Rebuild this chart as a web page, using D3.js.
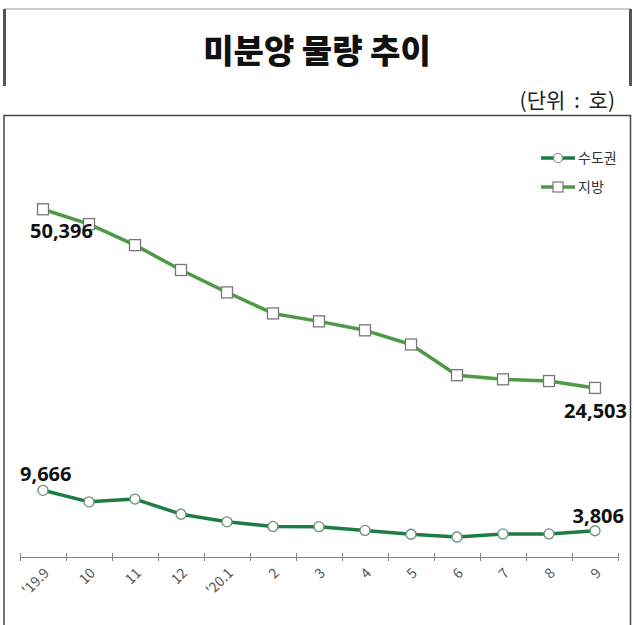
<!DOCTYPE html>
<html>
<head>
<meta charset="utf-8">
<script src="https://cdn.jsdelivr.net/npm/d3@7"></script>
<style>
  body { margin: 0; background: #fff; }
  svg  { display: block; }
</style>
</head>
<body>
<svg id="chart" width="634" height="625"></svg>
<script>
// MARK: Data.

const months   = ["'19.9", '10', '11', '12', "'20.1", '2', '3', '4', '5', '6', '7', '8', '9']
const capital  = [9666, 7990, 8400, 6202, 5100, 4427, 4400, 3850, 3300, 2900, 3350, 3350, 3806]
const regional = [50396, 48250, 45200, 41595, 38350, 35300, 34150, 32850, 30800, 26350, 25750, 25500, 24503]
const seriesNames = ['수도권', '지방']

// MARK: Layout.

const svg = d3.select('#chart')
const FONT = "'Noto Sans CJK KR', 'Noto Sans', sans-serif"

// Title box: a light top edge, two dark side edges.
svg.append('line').attr('x1', 4).attr('x2', 631).attr('y1', 9).attr('y2', 9)
  .attr('stroke', '#bbb').attr('stroke-width', 1.5)
svg.append('line').attr('x1', 4.5).attr('x2', 4.5).attr('y1', 9).attr('y2', 86)
  .attr('stroke', '#555').attr('stroke-width', 3)
svg.append('line').attr('x1', 630.5).attr('x2', 630.5).attr('y1', 9).attr('y2', 86)
  .attr('stroke', '#555').attr('stroke-width', 3)

svg.append('text')
  .attr('x', 317).attr('y', 63)
  .attr('text-anchor', 'middle')
  .attr('font-family', FONT).attr('font-weight', 900).attr('font-size', 33)
  .attr('fill', '#111')
  .text('미분양 물량 추이')

svg.append('text')
  .attr('x', 615).attr('y', 108)
  .attr('text-anchor', 'end')
  .attr('font-family', FONT).attr('font-size', 21)
  .attr('word-spacing', 4)
  .attr('fill', '#222')
  .text('(단위 : 호)')

// Chart frame.
svg.append('path')
  .attr('d', 'M4,625 V115.5 H630.5 V625')
  .attr('fill', 'none').attr('stroke', '#444').attr('stroke-width', 1.5)

// MARK: Scales.

const x = d3.scaleBand().domain(months).range([20, 618])
const y = d3.scaleLinear().domain([0, 60000]).range([557, 143])
const cx = (m) => x(m) + x.bandwidth() / 2

// Axis with ticks between categories.
svg.append('line').attr('x1', 20).attr('x2', 618).attr('y1', 557.5).attr('y2', 557.5)
  .attr('stroke', '#888').attr('stroke-width', 1)
svg.append('g').selectAll('line')
  .data(months.map((m) => x(m)).concat([x(months[months.length - 1]) + x.bandwidth()]))
  .enter().append('line')
  .attr('x1', (d) => Math.round(d) + 0.5).attr('x2', (d) => Math.round(d) + 0.5)
  .attr('y1', 553).attr('y2', 561)
  .attr('stroke', '#888').attr('stroke-width', 1)

svg.append('g').selectAll('text')
  .data(months).enter().append('text')
  .attr('transform', (m) => `translate(${cx(m) + 7}, ${574}) rotate(-45)`)
  .attr('text-anchor', 'end')
  .attr('font-family', FONT).attr('font-size', 14)
  .attr('fill', '#555')
  .text(String)

// MARK: Series.

const series = [
  { name: seriesNames[0], values: capital,  color: '#1d7c45', marker: 'circle' },
  { name: seriesNames[1], values: regional, color: '#4f9a45', marker: 'square' },
]

const line = d3.line()
  .x((d, i) => cx(months[i]))
  .y((d) => y(d))

for (const s of series) {
  const g = svg.append('g')
  g.append('path')
    .attr('d', line(s.values))
    .attr('fill', 'none')
    .attr('stroke', s.color)
    .attr('stroke-width', 3.5)
    .attr('stroke-linejoin', 'round')

  if (s.marker === 'circle') {
    g.selectAll('circle').data(s.values).enter().append('circle')
      .attr('cx', (d, i) => cx(months[i])).attr('cy', (d) => y(d))
      .attr('r', 5)
      .attr('fill', '#fff').attr('stroke', '#6a8f78').attr('stroke-width', 1.3)
  } else {
    g.selectAll('rect').data(s.values).enter().append('rect')
      .attr('x', (d, i) => cx(months[i]) - 5.5).attr('y', (d) => y(d) - 5.5)
      .attr('width', 11).attr('height', 11)
      .attr('fill', '#fff').attr('stroke', '#777').attr('stroke-width', 1.3)
  }
}

// MARK: Value labels on the first and last points.

const fmt = d3.format(',')
const labels = [
  { v: regional[0], x: cx(months[0]) - 13, y: y(regional[0]) + 29, anchor: 'start' },
  { v: regional[12], x: 627, y: y(regional[12]) + 30, anchor: 'end' },
  { v: capital[0], x: 20, y: y(capital[0]) - 9, anchor: 'start' },
  { v: capital[12], x: 624, y: y(capital[12]) - 8, anchor: 'end' },
]
svg.append('g').selectAll('text')
  .data(labels).enter().append('text')
  .attr('x', (d) => d.x).attr('y', (d) => d.y)
  .attr('text-anchor', (d) => d.anchor)
  .attr('font-family', "'Noto Sans', sans-serif").attr('font-weight', 700).attr('font-size', 20)
  .attr('fill', '#111')
  .text((d) => fmt(d.v))

// MARK: Legend.

const legend = svg.append('g').selectAll('g')
  .data(series).enter().append('g')
  .attr('transform', (d, i) => `translate(541, ${158 + i * 29})`)
legend.append('line')
  .attr('x1', 0).attr('x2', 34)
  .attr('stroke', (d) => d.color).attr('stroke-width', 3.5)
legend.filter((d) => d.marker === 'circle').append('circle')
  .attr('cx', 17).attr('r', 4.5)
  .attr('fill', '#fff').attr('stroke', '#6a8f78').attr('stroke-width', 1.2)
legend.filter((d) => d.marker === 'square').append('rect')
  .attr('x', 12).attr('y', -5).attr('width', 10).attr('height', 10)
  .attr('fill', '#fff').attr('stroke', '#777').attr('stroke-width', 1.2)
legend.append('text')
  .attr('x', 37).attr('y', 5)
  .attr('font-family', FONT).attr('font-size', 14)
  .attr('fill', '#333')
  .text((d) => d.name)
</script>
</body>
</html>
